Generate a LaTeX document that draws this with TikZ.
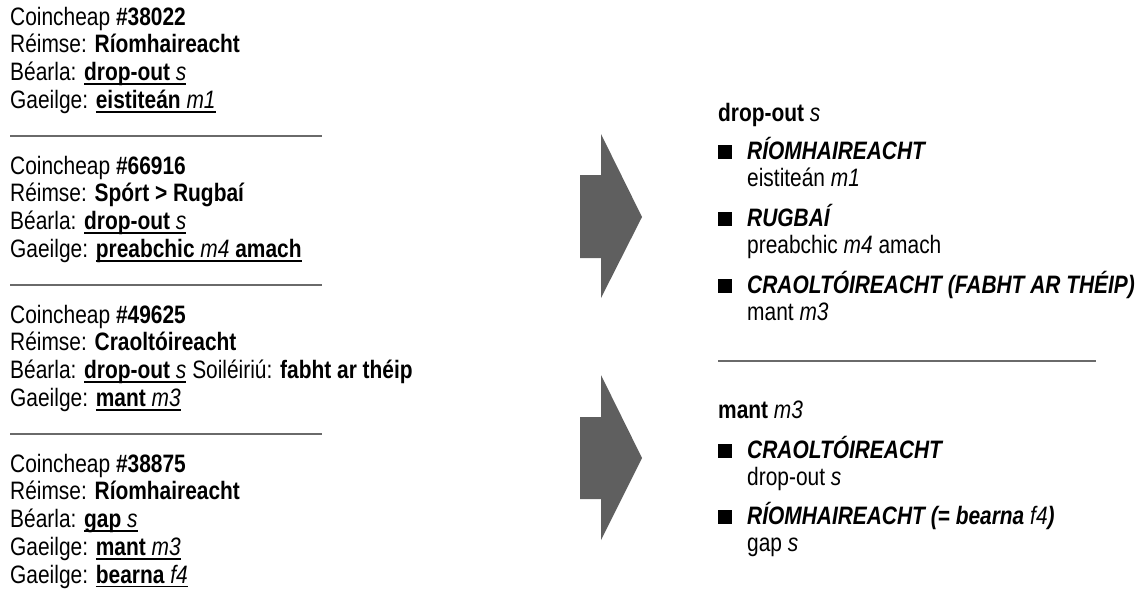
\documentclass[tikz,border=0pt]{standalone}
\usepackage{fontspec}
\setmainfont{Liberation Sans}[FakeStretch=0.83]
\newsavebox\ulbox
% underline at a fixed depth below the baseline
\newcommand\ulx[1]{\sbox\ulbox{#1}\rlap{\rule[-4.4pt]{\wd\ulbox}{1.7pt}}\usebox\ulbox}
\newcommand\bi[1]{\textbf{\textit{#1}}}
\definecolor{arrowgray}{HTML}{5F5F5F}
\definecolor{rulegray}{HTML}{6A6A6A}
\begin{document}
\begin{tikzpicture}[x=1pt,y=-1pt,
  txt/.style={anchor=base west,inner sep=0pt,font=\fontsize{25.2}{30}\selectfont},
  sepline/.style={draw=rulegray,line width=1.5pt},
  bigarrow/.style={fill=arrowgray},
  bulletsq/.style={fill=black,inner sep=0pt,minimum size=14pt}]
\useasboundingbox (0,0) rectangle (1141,590);

% ---- left column: term records ----
\node[txt] (a1) at (10,25)     {Coincheap \textbf{\#38022}};
\node[txt] (a2) at (10,52.75)  {Réimse: \textbf{Ríomhaireacht}};
\node[txt] (a3) at (10,80.5)   {Béarla: \ulx{\textbf{drop-out} \textit{s}}};
\node[txt] (a4) at (10,108.25) {Gaeilge: \ulx{\textbf{eistiteán} \textit{m1}}};
\coordinate (s1a) at (10,136); \coordinate (s1b) at (322,136);
\draw[sepline] (s1a) -- (s1b);

\node[txt] (b1) at (10,174)    {Coincheap \textbf{\#66916}};
\node[txt] (b2) at (10,201.75) {Réimse: \textbf{Spórt > Rugbaí}};
\node[txt] (b3) at (10,229.5)  {Béarla: \ulx{\textbf{drop-out} \textit{s}}};
\node[txt] (b4) at (10,257.25) {Gaeilge: \ulx{\textbf{preabchic} \textit{m4} \textbf{amach}}};
\coordinate (s2a) at (10,285); \coordinate (s2b) at (322,285);
\draw[sepline] (s2a) -- (s2b);

\node[txt] (c1) at (10,323)    {Coincheap \textbf{\#49625}};
\node[txt] (c2) at (10,350.75) {Réimse: \textbf{Craoltóireacht}};
\node[txt] (c3) at (10,378.5)  {Béarla: \ulx{\textbf{drop-out} \textit{s}} Soiléiriú: \textbf{fabht ar théip}};
\node[txt] (c4) at (10,406.25) {Gaeilge: \ulx{\textbf{mant} \textit{m3}}};
\coordinate (s3a) at (10,434); \coordinate (s3b) at (322,434);
\draw[sepline] (s3a) -- (s3b);

\node[txt] (d1) at (10,472)    {Coincheap \textbf{\#38875}};
\node[txt] (d2) at (10,499.75) {Réimse: \textbf{Ríomhaireacht}};
\node[txt] (d3) at (10,527.5)  {Béarla: \ulx{\textbf{gap} \textit{s}}};
\node[txt] (d4) at (10,555.25) {Gaeilge: \ulx{\textbf{mant} \textit{m3}}};
\node[txt] (d5) at (10,583)    {Gaeilge: \ulx{\textbf{bearna} \textit{f4}}};

% ---- block arrows ----
\fill[bigarrow] (580,175) -- (601,175) -- (601,134) -- (642,217)
  -- (601,298) -- (601,258) -- (580,258) -- cycle;
\fill[bigarrow] (580,417) -- (601,417) -- (601,375) -- (642,458)
  -- (601,540) -- (601,499) -- (580,499) -- cycle;

% ---- right column: dictionary entries ----
\node[txt] (h1) at (718,121) {\textbf{drop-out} \textit{s}};
\node[bulletsq] (q1) at (725,152) {};
\node[txt] (e1) at (747,159) {\bi{RÍOMHAIREACHT}};
\node[txt] (f1) at (747,186) {eistiteán \textit{m1}};
\node[bulletsq] (q2) at (725,219) {};
\node[txt] (e2) at (747,226) {\bi{RUGBAÍ}};
\node[txt] (f2) at (747,253) {preabchic \textit{m4} amach};
\node[bulletsq] (q3) at (725,286) {};
\node[txt] (e3) at (747,293) {\bi{CRAOLTÓIREACHT (FABHT AR THÉIP)}};
\node[txt] (f3) at (747,320) {mant \textit{m3}};

\coordinate (r1) at (718,361); \coordinate (r2) at (1096,361);
\draw[sepline] (r1) -- (r2);

\node[txt] (h2) at (718,418) {\textbf{mant} \textit{m3}};
\node[bulletsq] (q4) at (725,451) {};
\node[txt] (e4) at (747,458) {\bi{CRAOLTÓIREACHT}};
\node[txt] (f4) at (747,485) {drop-out \textit{s}};
\node[bulletsq] (q5) at (725,517) {};
\node[txt] (e5) at (747,524) {\bi{RÍOMHAIREACHT (= bearna} \textit{f4}\bi{)}};
\node[txt] (f5) at (747,551) {gap \textit{s}};
\end{tikzpicture}
\end{document}
